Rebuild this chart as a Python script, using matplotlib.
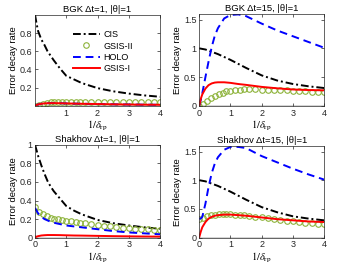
import numpy as np
import matplotlib
matplotlib.use("Agg")
import matplotlib.pyplot as plt

plt.rcParams['font.family'] = ['Liberation Sans', 'DejaVu Sans']
plt.rcParams['mathtext.fontset'] = 'stix'

# common x grids
x_line = [0, 0.05, 0.1, 0.2, 0.3, 0.4, 0.5, 0.6, 0.8, 1.0, 1.25, 1.5, 2.0, 2.5, 3.0, 3.5, 4.0]
x_mark = [0, 0.12, 0.25, 0.37, 0.5, 0.62, 0.75, 0.87, 1.0, 1.15, 1.3, 1.45, 1.6,
          1.8, 2.0, 2.2, 2.4, 2.6, 2.8, 3.0, 3.2, 3.4, 3.6, 3.8, 4.0]

# BGK dt=1
bgk1_cis = [1.0, 0.9, 0.82, 0.73, 0.67, 0.6, 0.55, 0.5, 0.41, 0.33, 0.29, 0.25, 0.195, 0.16, 0.135, 0.115, 0.1]
bgk1_holo = [0.0, 0.01, 0.016, 0.023, 0.027, 0.029, 0.03, 0.03, 0.029, 0.027, 0.025, 0.023, 0.02, 0.017, 0.015, 0.013, 0.012]
bgk1_gsis1 = [0.0, 0.01, 0.016, 0.023, 0.027, 0.029, 0.03, 0.03, 0.029, 0.027, 0.025, 0.023, 0.02, 0.017, 0.015, 0.013, 0.012]
bgk1_gsis2 = [0.0, 0.01, 0.025, 0.035, 0.04, 0.044, 0.046, 0.047, 0.048, 0.048, 0.048, 0.048, 0.048,
              0.048, 0.048, 0.048, 0.047, 0.047, 0.047, 0.047, 0.046, 0.046, 0.046, 0.045, 0.045]

# BGK dt=15
bgk15_cis = [1.0, 0.995, 0.99, 0.98, 0.96, 0.94, 0.92, 0.9, 0.85, 0.8, 0.73, 0.66, 0.53, 0.44, 0.38, 0.34, 0.31]
bgk15_holo = [0.0, 0.1, 0.22, 0.5, 0.77, 1.02, 1.22, 1.35, 1.52, 1.58, 1.59, 1.56, 1.43, 1.31, 1.21, 1.11, 1.01]
bgk15_gsis1 = [0.0, 0.12, 0.2, 0.3, 0.36, 0.39, 0.405, 0.41, 0.41, 0.4, 0.38, 0.365, 0.33, 0.305, 0.285, 0.275, 0.27]
bgk15_gsis2 = [0.0, 0.03, 0.08, 0.13, 0.17, 0.2, 0.23, 0.25, 0.265, 0.275, 0.28, 0.285, 0.285,
               0.285, 0.283, 0.28, 0.277, 0.273, 0.27, 0.265, 0.26, 0.255, 0.248, 0.24, 0.233]

# Shakhov dt=1
sh1_cis = [1.0, 0.94, 0.88, 0.78, 0.69, 0.61, 0.55, 0.5, 0.42, 0.34, 0.29, 0.25, 0.19, 0.155, 0.13, 0.11, 0.095]
sh1_holo = [0.32, 0.29, 0.26, 0.225, 0.2, 0.185, 0.17, 0.16, 0.145, 0.13, 0.12, 0.11, 0.09, 0.07, 0.055, 0.045, 0.035]
sh1_gsis1 = [0.0, 0.01, 0.015, 0.022, 0.025, 0.027, 0.027, 0.027, 0.026, 0.024, 0.022, 0.021, 0.018, 0.015, 0.013, 0.011, 0.01]
sh1_gsis2 = [0.33, 0.28, 0.25, 0.23, 0.215, 0.205, 0.195, 0.19, 0.183, 0.175, 0.168, 0.16, 0.152,
             0.143, 0.135, 0.127, 0.12, 0.113, 0.107, 0.102, 0.097, 0.093, 0.089, 0.085, 0.082]

# Shakhov dt=15
sh15_cis = [1.0, 0.995, 0.99, 0.98, 0.96, 0.94, 0.92, 0.9, 0.85, 0.8, 0.73, 0.66, 0.53, 0.44, 0.37, 0.33, 0.3]
sh15_holo = [0.33, 0.33, 0.36, 0.59, 0.88, 1.12, 1.29, 1.4, 1.53, 1.58, 1.58, 1.56, 1.42, 1.31, 1.2, 1.1, 1.01]
sh15_gsis1 = [0.0, 0.1, 0.18, 0.27, 0.33, 0.36, 0.38, 0.39, 0.4, 0.4, 0.39, 0.38, 0.35, 0.32, 0.3, 0.28, 0.27]
sh15_gsis2 = [0.33, 0.34, 0.37, 0.39, 0.4, 0.405, 0.41, 0.41, 0.405, 0.4, 0.395, 0.385, 0.375,
              0.36, 0.35, 0.335, 0.32, 0.305, 0.29, 0.28, 0.27, 0.26, 0.25, 0.24, 0.235]

panels = [
    ("BGK \u0394t=1, |\u03b8|=1", bgk1_cis, bgk1_gsis2, bgk1_holo, bgk1_gsis1, [0.104, 0.602, 0.371, 0.342]),
    ("BGK \u0394t=15, |\u03b8|=1", bgk15_cis, bgk15_gsis2, bgk15_holo, bgk15_gsis1, [0.591, 0.602, 0.371, 0.346]),
    ("Shakhov \u0394t=1, |\u03b8|=1", sh1_cis, sh1_gsis2, sh1_holo, sh1_gsis1, [0.104, 0.107, 0.371, 0.348]),
    ("Shakhov \u0394t=15, |\u03b8|=1", sh15_cis, sh15_gsis2, sh15_holo, sh15_gsis1, [0.591, 0.107, 0.371, 0.345]),
]

fig = plt.figure(figsize=(3.37, 2.66), dpi=100)

for i, (title, cis, g2, holo, g1, pos) in enumerate(panels):
    ax = fig.add_axes(pos)
    ax.plot(x_line, [0] * len(x_line), color='#d0d0d0', lw=2.0, zorder=1)
    ax.plot(x_line, cis, color='k', lw=1.4, label='CIS', dashes=(4, 1.5, 1, 1.5))
    ax.plot(x_mark, g2, 'o', color='#8DB33A', mfc='none', ms=4, mew=0.8, label='GSIS-II')
    ax.plot(x_line, holo, color='b', lw=1.4, label='HOLO', dashes=(4, 2.5))
    ax.plot(x_line, g1, color='r', ls='-', lw=1.4, label='GSIS-I')
    ax.set_xlim(0, 4)
    if i in (0, 2):
        ax.set_ylim(0, 1)
    else:
        ax.set_ylim(0, 1.6)
    if i == 0:
        ax.set_xticks([1, 2, 3, 4])
        ax.set_yticks([0.2, 0.4, 0.6, 0.8])
        ax.legend(loc='upper right', bbox_to_anchor=(0.81, 0.87), frameon=False,
                  fontsize=6.5, handlelength=3.0, handletextpad=0.4,
                  labelspacing=0.25, borderaxespad=0)
    elif i == 2:
        ax.set_xticks([0, 1, 2, 3, 4])
        ax.set_yticks([0, 0.2, 0.4, 0.6, 0.8, 1])
        ax.set_yticklabels(['0', '0.2', '0.4', '0.6', '0.8', '1'])
    else:
        ax.set_xticks([0, 1, 2, 3, 4])
        ax.set_yticks([0, 0.5, 1, 1.5])
        ax.set_yticklabels(['0', '0.5', '1', '1.5'])
    ax.set_title(title, fontsize=6.8, pad=2)
    ax.set_ylabel('Error decay rate', fontsize=6.8, labelpad=1.5)
    ax.set_xlabel(r'$1/\delta_{\rm rp}$', fontsize=7.5, labelpad=1)
    ax.tick_params(direction='in', top=True, right=True, labelsize=6.5,
                   length=2, width=0.5, pad=2, colors='#262626')
    for s in ax.spines.values():
        s.set_linewidth(0.5)
        s.set_color('#262626')

fig.savefig('out.png', dpi=100)
